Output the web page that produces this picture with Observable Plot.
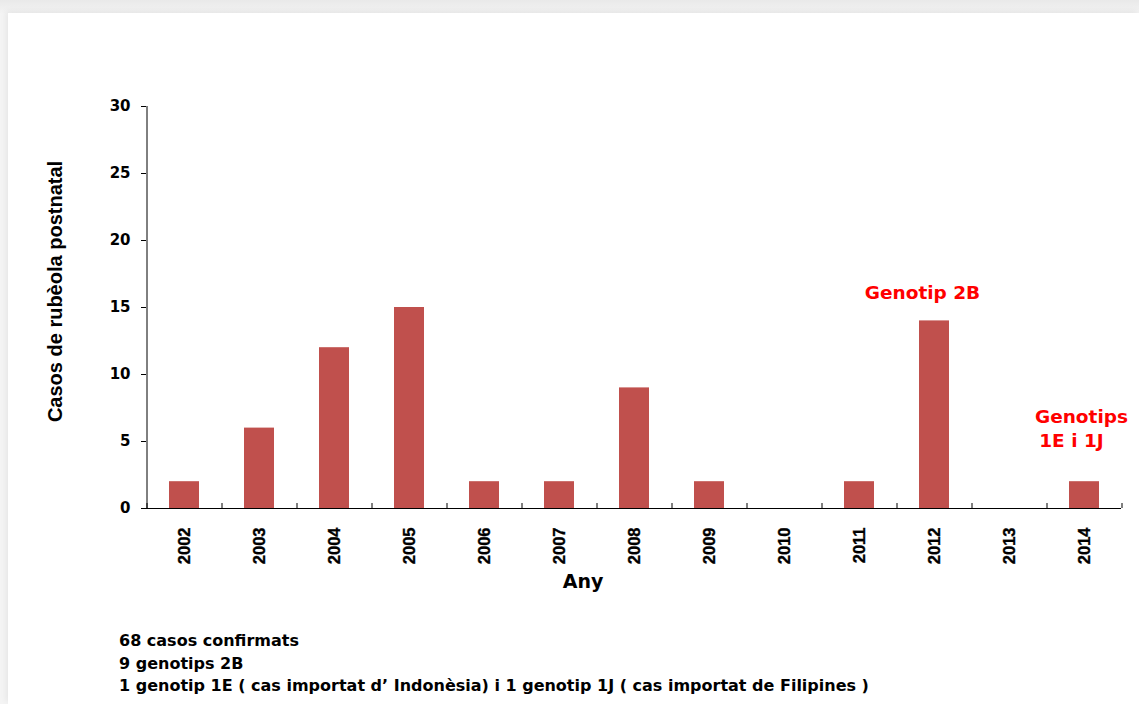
<!DOCTYPE html>
<html>
<head>
<meta charset="utf-8">
<script src="https://cdn.jsdelivr.net/npm/d3@7"></script>
<script src="https://cdn.jsdelivr.net/npm/@observablehq/plot@0.6"></script>
<style>
  html, body { margin: 0; padding: 0; }
  body { width: 1139px; height: 704px; overflow: hidden; background: linear-gradient(#e9e9e9, #f4f4f4 14px); }
  #wrap { position: relative; width: 1139px; height: 704px; }
  #card { position: absolute; left: 8px; top: 13px; right: 0; bottom: 0; background: #fff; box-shadow: -2px -2px 6px rgba(0,0,0,0.06); }
  #chart { position: absolute; left: 0; top: 0; }
  #chart g[aria-label="x-axis tick label"] { font-weight: bold; }
  #chart g[aria-label="x-axis tick label"] text { font-weight: bold; stroke: #000; stroke-width: 0.35px; }
  #footer { position: absolute; left: 119px; top: 630px; font-family: "DejaVu Sans", sans-serif; font-weight: bold; font-size: 16px; line-height: 22.5px; color: #000; white-space: pre; }
</style>
</head>
<body>
<div id="wrap">
  <div id="card"></div>
  <div id="chart"></div>
  <div id="footer"></div>
</div>
<script>
// ---- data ----
const years = ["2002","2003","2004","2005","2006","2007","2008","2009","2010","2011","2012","2013","2014"];
const cases = [2, 6, 12, 15, 2, 2, 9, 2, 0, 2, 14, 0, 2];
const yTicks = [0, 5, 10, 15, 20, 25, 30];
const yLabel = "Casos de rubèola postnatal";
const xLabel = "Any";
const annot2B = {year: "2012", value: 14, text: "Genotip 2B"};
const annot1E = {year: "2014", value: 2, lines: ["Genotips", "1E i 1J"]};
const footerLines = [
  "68 casos confirmats",
  "9 genotips 2B",
  "1 genotip 1E ( cas importat d\u2019 Indonèsia) i 1 genotip 1J ( cas importat de Filipines )"
];

const data = years.map((y, i) => ({year: y, value: cases[i]}));

// ---- layout ----
const W = 1139, H = 600;
const mL = 146, mR = 18, mT = 106, mB = 92;
const step = (W - mL - mR) / years.length;
const barColor = "#C0504D";
const red = "#FF0000";
const arial = "'Liberation Sans', Arial, sans-serif";
const wide = "'DejaVu Sans', sans-serif";

const chart = Plot.plot({
  width: W,
  height: H,
  marginLeft: mL,
  marginRight: mR,
  marginTop: mT,
  marginBottom: mB,
  style: {background: "transparent", color: "#000", fontFamily: arial, overflow: "visible"},
  x: {type: "band", domain: years, paddingInner: 0.6, paddingOuter: 0.3, label: null},
  y: {domain: [0, 30], label: null},
  marks: [
    Plot.barY(data, {x: "year", y: "value", fill: barColor}),
    // axis lines
    Plot.ruleY([0], {stroke: "#000", strokeWidth: 1, insetLeft: -5}),
    Plot.ruleX([years[0]], {y1: 0, y2: 30, dx: -step / 2, stroke: "#000"}),
    // x boundary ticks
    Plot.ruleX(years, {x: d => d, y1: 0, y2: 0, insetTop: -5, dx: -step / 2, stroke: "#000"}),
    Plot.ruleX([years[years.length - 1]], {y1: 0, y2: 0, insetTop: -5, dx: step / 2, stroke: "#000"}),
    Plot.axisY({ticks: yTicks, tickSize: 5, tickPadding: 11, fontSize: 15, fontWeight: "bold", fontFamily: wide, label: null}),
    Plot.axisX({tickSize: 0, tickPadding: 19, tickRotate: -90, fontSize: 16.5, fontWeight: "bold", fontFamily: arial, label: null}),
    // axis titles
    Plot.text([yLabel], {frameAnchor: "left", textAnchor: "middle", text: d => d, rotate: -90, dx: -91, dy: -16, fontSize: 20, fontWeight: "bold", fontFamily: arial}),
    Plot.text([xLabel], {frameAnchor: "bottom", text: d => d, dx: -51, dy: 79, fontSize: 19, fontWeight: "bold", fontFamily: wide}),
    // annotations
    Plot.text([annot2B], {x: "year", y: "value", text: "text", dx: -12, dy: -28, fill: red, fontSize: 18.5, fontWeight: "bold", fontFamily: wide}),
    Plot.text([annot1E], {x: "year", y: "value", text: d => d.lines[0], dx: -3, dy: -65, fill: red, fontSize: 18.5, fontWeight: "bold", fontFamily: wide}),
    Plot.text([annot1E], {x: "year", y: "value", text: d => d.lines[1], dx: -13, dy: -41, fill: red, fontSize: 18.5, fontWeight: "bold", fontFamily: wide})
  ]
});
document.getElementById("chart").appendChild(chart);
document.getElementById("footer").textContent = footerLines.join("\n");
</script>
</body>
</html>
